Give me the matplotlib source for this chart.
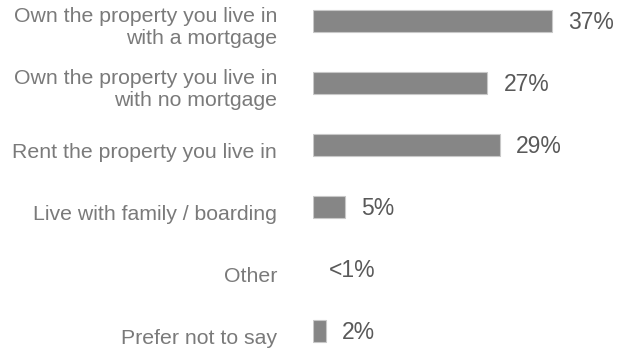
import matplotlib.pyplot as plt
import matplotlib.transforms as mtransforms

plt.rcParams['font.family'] = ['Liberation Sans', 'DejaVu Sans']

# data
categories = [
    "Own the property you live in\nwith a mortgage",
    "Own the property you live in\nwith no mortgage",
    "Rent the property you live in",
    "Live with family / boarding",
    "Other",
    "Prefer not to say",
]
values = [37, 27, 29, 5, 0, 2]
value_labels = ["37%", "27%", "29%", "5%", "<1%", "2%"]

fig = plt.figure(figsize=(6.21, 3.55), dpi=100)
ax = fig.add_axes([313 / 621, 0, 1 - 313 / 621, 1])

ypos = list(range(len(categories)))
bars = ax.barh(ypos, values, height=0.36, color='#868686', edgecolor='#c8c8c8', linewidth=0.8)
for b, v in zip(bars, values):
    if v == 0:
        b.set_linewidth(0)

ax.set_xlim(0, (621 - 313) / 6.46)
ax.set_ylim((355 - 21) / 62, -21 / 62)
ax.axis('off')

# category labels on the left, slightly below bar centre
lab_off = mtransforms.offset_copy(ax.transData, fig=fig, x=-36, y=-7, units='dots')
for y, cat in zip(ypos, categories):
    ax.text(0, y, cat, transform=lab_off, ha='right', va='center',
            fontsize=15.3, color='#7a7a7a', linespacing=1.2)

# value labels right of the bars
for y, v, lab in zip(ypos, values, value_labels):
    ax.annotate(lab, (v, y), xytext=(11.5, -1), textcoords='offset points',
                ha='left', va='center', fontsize=16.5, color='#595959')

fig.savefig('out.png', dpi=100)
